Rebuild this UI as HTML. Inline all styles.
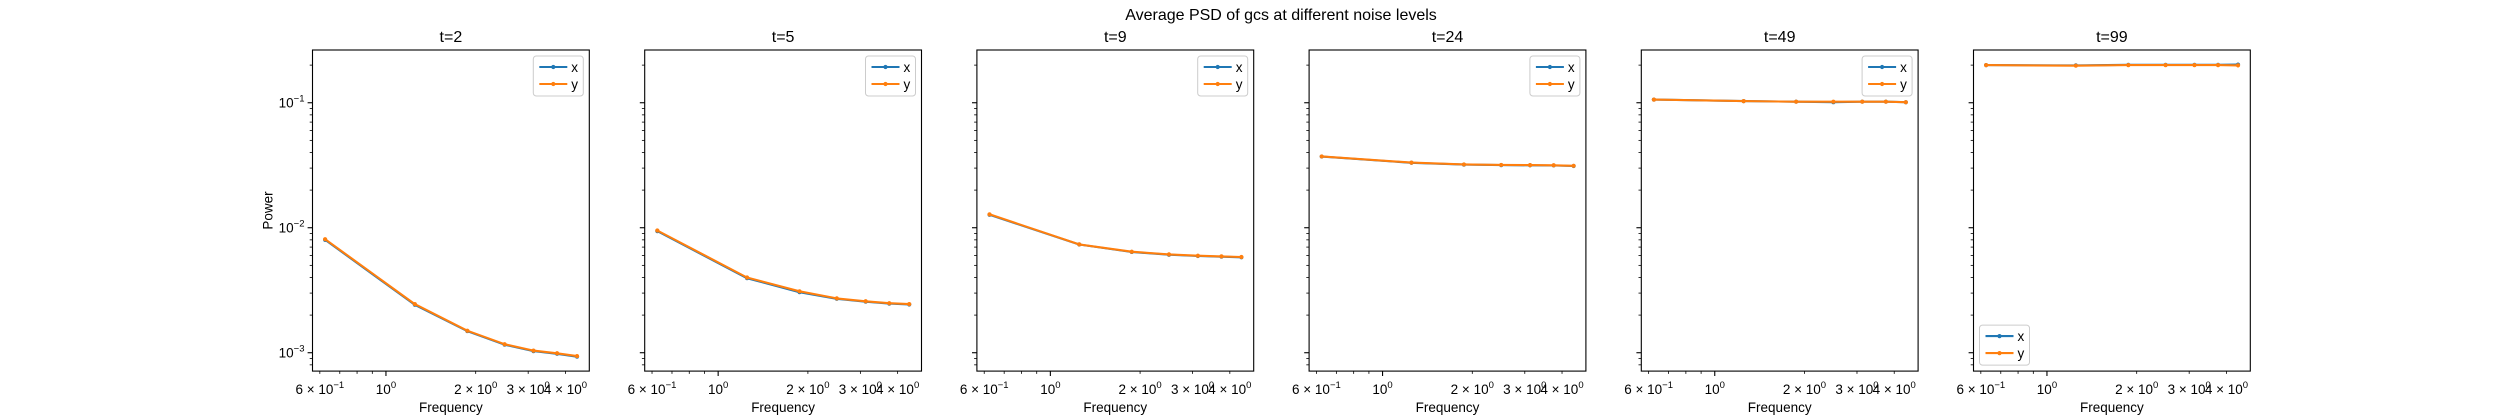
<!DOCTYPE html>
<html><head><meta charset="utf-8"><style>
html,body{margin:0;padding:0;background:#fff;}
svg{display:block;font-family:"Liberation Sans","DejaVu Sans",sans-serif;}
</style></head><body>
<svg id="fig" width="2500" height="417" viewBox="0 0 2500 417" xmlns="http://www.w3.org/2000/svg">
<rect width="2500" height="417" fill="#fff"/>
<text x="1281" y="20" font-size="16" text-anchor="middle">Average PSD of gcs at different noise levels</text>
</svg>
<script>
const titles = ["t=2","t=5","t=9","t=24","t=49","t=99"];
const freqs = [0.625,1.25,1.875,2.5,3.125,3.75,4.375];
const seriesX = [
 [0.0080,0.00242,0.00149,0.00116,0.00103,0.00098,0.00093],
 [0.0094,0.00395,0.00305,0.00270,0.00256,0.00247,0.00243],
 [0.0127,0.00734,0.0064,0.00608,0.00594,0.00587,0.00580],
 [0.0371,0.0331,0.0320,0.0317,0.0316,0.0315,0.0312],
 [0.106,0.103,0.102,0.101,0.102,0.102,0.101],
 [0.200,0.199,0.201,0.201,0.201,0.201,0.202]
];
const seriesY = [
 [0.0081,0.00245,0.00150,0.00117,0.00104,0.00099,0.00094],
 [0.0095,0.0040,0.0031,0.00272,0.00258,0.00249,0.00245],
 [0.0128,0.00736,0.00643,0.00612,0.00597,0.0059,0.00583],
 [0.0372,0.0332,0.0321,0.0318,0.0317,0.0316,0.0313],
 [0.106,0.103,0.102,0.102,0.102,0.102,0.101],
 [0.200,0.198,0.200,0.200,0.200,0.200,0.199]
];
const xTickVals = [0.6,1,2,3,4];
const xTickLabels = [["6","−1"],["","0"],["2","0"],["3","0"],["4","0"]];
const yTickVals = [0.1,0.01,0.001];
const yTickLabels = ["−1","−2","−3"];

const NS="http://www.w3.org/2000/svg";
const svg=document.getElementById('fig');
function mk(tag,attrs,parent){const e=document.createElementNS(NS,tag);for(const k in attrs)e.setAttribute(k,attrs[k]);(parent||svg).appendChild(e);return e;}
const L0=312.5, W=276.8, GAP=55.4, TOP=50, BOT=371.1;
const xmin=Math.log10(0.567), xmax=Math.log10(4.81);
const ymax=-0.578, ymin=-3.147;
function yS(v){return TOP+(ymax-Math.log10(v))/(ymax-ymin)*(BOT-TOP);}

for(let p=0;p<6;p++){
  const L=L0+p*(W+GAP), R=L+W;
  const xS=v=>L+(Math.log10(v)-xmin)/(xmax-xmin)*W;
  const g=mk('g',{});
  
  
  const t=mk('text',{x:(L+R)/2,y:42,'font-size':'16','text-anchor':'middle'},g);
  t.textContent=titles[p];
  
  
  for(let d=-4;d<=0;d++){for(let m=1;m<=9;m++){const v=m*Math.pow(10,d);const lv=Math.log10(v);if(lv<ymin||lv>ymax)continue;const y=yS(v);const len=m===1?4.9:2.8;mk('line',{x1:L-len,x2:L,y1:y,y2:y,stroke:'#000','stroke-width':m===1?1.1:0.8},g);}}
  if(p===0){
    yTickVals.forEach((v,i)=>{const tx=mk('text',{x:L-8,y:yS(v)+5,'font-size':'13.5','text-anchor':'end'},g);
      tx.innerHTML='10<tspan dy="-6" font-size="9.5">'+yTickLabels[i]+'</tspan>';
      
      });
    const yl=mk('text',{x:0,y:0,'font-size':'13.5','text-anchor':'middle',transform:`translate(${L-40},${(TOP+BOT)/2}) rotate(-90)`},g);
    yl.textContent='Power';
    
    
  }
  for(let d=-1;d<=0;d++){for(let m=1;m<=9;m++){const v=m*Math.pow(10,d);const lv=Math.log10(v);if(lv<xmin||lv>xmax)continue;const x=xS(v);const len=m===1?4.9:2.8;mk('line',{x1:x,x2:x,y1:BOT,y2:BOT+len,stroke:'#000','stroke-width':m===1?1.1:0.8},g);}}
  xTickVals.forEach((v,i)=>{const lab=xTickLabels[i];const tx=mk('text',{x:xS(v),y:BOT+23,'font-size':'13.5','text-anchor':'middle'},g);
    tx.innerHTML=(lab[0]?lab[0]+' × ':'')+'10<tspan dy="-6" font-size="9.5">'+lab[1]+'</tspan>';
    
    });
  const xl=mk('text',{x:(L+R)/2,y:BOT+41,'font-size':'13.5','text-anchor':'middle'},g);
  xl.textContent='Frequency';
  
  
  [[seriesX[p],'#1f77b4','series-x'],[seriesY[p],'#ff7f0e','series-y']].forEach(([vals,col,nm])=>{
    const pts=vals.map((v,i)=>xS(freqs[i]).toFixed(1)+','+yS(v).toFixed(1)).join(' ');
    const pl=mk('polyline',{points:pts,fill:'none',stroke:col,'stroke-width':2.1,'stroke-linejoin':'round'},g);
    
    
    vals.forEach((v,i)=>{const c=mk('circle',{cx:xS(freqs[i]),cy:yS(v),r:2.1,fill:col},g);
      
      });
  });
  mk('rect',{x:L,y:TOP,width:W,height:BOT-TOP,fill:'none',stroke:'#000','stroke-width':1.1},g);
  const lw=50,lh=40;
  const lx=p===5?L+6:R-6-lw, ly=p===5?BOT-6-lh:TOP+6;
  const lg=mk('g',{},g);
  
  
  mk('rect',{x:lx,y:ly,width:lw,height:lh,rx:3,fill:'#fff','fill-opacity':0.8,stroke:'#ccc','stroke-width':1},lg);
  [['x','#1f77b4'],['y','#ff7f0e']].forEach(([n,c],i)=>{const yy=ly+11+i*17;
    mk('line',{x1:lx+6,x2:lx+34,y1:yy,y2:yy,stroke:c,'stroke-width':2.1},lg);
    mk('circle',{cx:lx+20,cy:yy,r:2.1,fill:c},lg);
    const tt=mk('text',{x:lx+38,y:yy+5,'font-size':'13.5'},lg);tt.textContent=n;
    
    });
}
</script>
</body></html>
